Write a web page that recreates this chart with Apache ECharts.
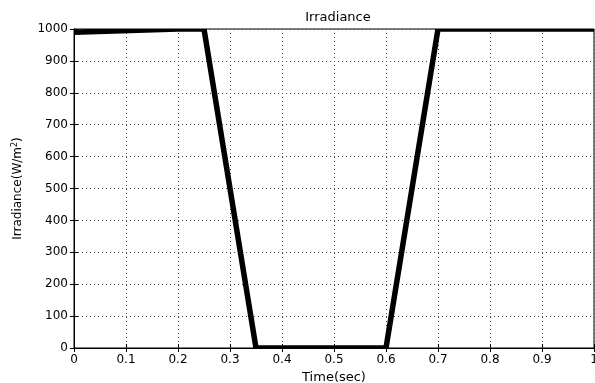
<!DOCTYPE html>
<html>
<head>
<meta charset="utf-8">
<script src="https://cdn.jsdelivr.net/npm/echarts@6/dist/echarts.min.js"></script>
<style>
  html, body { margin: 0; padding: 0; background: #fff; }
  #chart { width: 595px; height: 383px; }
</style>
</head>
<body>
<div id="chart"></div>
<script>
// irradiance profile (time in sec, W/m2)
var timeData = [0, 0.2, 0.25, 0.35, 0.6, 0.7, 1];
var irrData = [990, 1000, 1000, 0, 0, 1000, 1000];
var xTicks = [0, 0.1, 0.2, 0.3, 0.4, 0.5, 0.6, 0.7, 0.8, 0.9, 1];
var yTicks = [0, 100, 200, 300, 400, 500, 600, 700, 800, 900, 1000];

var points = [];
for (var i = 0; i < timeData.length; i++) {
    points.push([timeData[i], irrData[i]]);
}

var font = 'DejaVu Sans, sans-serif';
var gridDash = { color: '#444', type: [1, 3], width: 1 };

var chart = echarts.init(document.getElementById('chart'), null, { renderer: 'canvas' });
var option = {
    animation: false,
    backgroundColor: '#fff',
    title: {
        text: 'Irradiance',
        left: 333,
        textAlign: 'center',
        top: 6,
        textStyle: { fontFamily: font, fontSize: 13, fontWeight: 'normal', color: '#000' }
    },
    grid: {
        left: 74,
        top: 29,
        right: 1,
        bottom: 35,
        outerBoundsMode: 'none',
        containLabel: false,
        show: true,
        borderColor: '#000',
        borderWidth: 1
    },
    xAxis: [{
        type: 'value',
        min: xTicks[0],
        max: xTicks[xTicks.length - 1],
        interval: 0.1,
        name: 'Time(sec)',
        nameLocation: 'middle',
        nameGap: 18,
        nameTextStyle: { fontFamily: font, fontSize: 13, color: '#000' },
        axisLine: { lineStyle: { color: '#000' } },
        axisTick: { inside: true, length: 4, lineStyle: { color: '#000' } },
        axisLabel: {
            fontFamily: font, fontSize: 12, color: '#000', margin: 6,
            formatter: function(v) { return String(Math.round(v * 10) / 10); }
        },
        splitLine: { show: true, lineStyle: gridDash }
    }, {
        type: 'value',
        position: 'top',
        min: xTicks[0],
        max: xTicks[xTicks.length - 1],
        interval: 0.1,
        axisLine: { lineStyle: { color: '#000' } },
        axisTick: { inside: true, length: 4, lineStyle: { color: '#000' } },
        axisLabel: { show: false },
        splitLine: { show: false }
    }],
    yAxis: [{
        type: 'value',
        min: yTicks[0],
        max: yTicks[yTicks.length - 1],
        interval: 100,
        name: '{a|Irradiance(W/m}{s|2}{a|)}',
        nameLocation: 'middle',
        nameRotate: 90,
        nameGap: 49,
        nameTextStyle: {
            rich: {
                a: { fontFamily: font, fontSize: 12, color: '#000' },
                s: { fontFamily: font, fontSize: 8, color: '#000', verticalAlign: 'top', padding: [0, 0, 6, 0] }
            }
        },
        axisLine: { show: true, lineStyle: { color: '#000' } },
        axisTick: { inside: true, length: 4, lineStyle: { color: '#000' } },
        axisLabel: {
            fontFamily: font, fontSize: 12, color: '#000', margin: 6,
            formatter: function(v) { return String(v); }
        },
        splitLine: { show: true, lineStyle: gridDash }
    }, {
        type: 'value',
        position: 'right',
        min: yTicks[0],
        max: yTicks[yTicks.length - 1],
        interval: 100,
        axisLine: { show: true, lineStyle: { color: '#000' } },
        axisTick: { inside: true, length: 4, lineStyle: { color: '#000' } },
        axisLabel: { show: false },
        splitLine: { show: false }
    }],
    series: [{
        // custom polyline so it is clipped exactly at the axes box (like the original plot)
        name: 'Irradiance',
        type: 'custom',
        data: points,
        encode: { x: 0, y: 1 },
        clip: true,
        silent: true,
        z: 5,
        renderItem: function(params, api) {
            if (params.dataIndex !== 0) {
                return null;
            }
            var pts = [];
            for (var k = 0; k < points.length; k++) {
                pts.push(api.coord(points[k]));
            }
            return {
                type: 'polyline',
                shape: { points: pts },
                style: { stroke: '#000', lineWidth: 5.5, fill: 'none', lineJoin: 'miter' }
            };
        }
    }]
};
chart.setOption(option);
</script>
</body>
</html>
